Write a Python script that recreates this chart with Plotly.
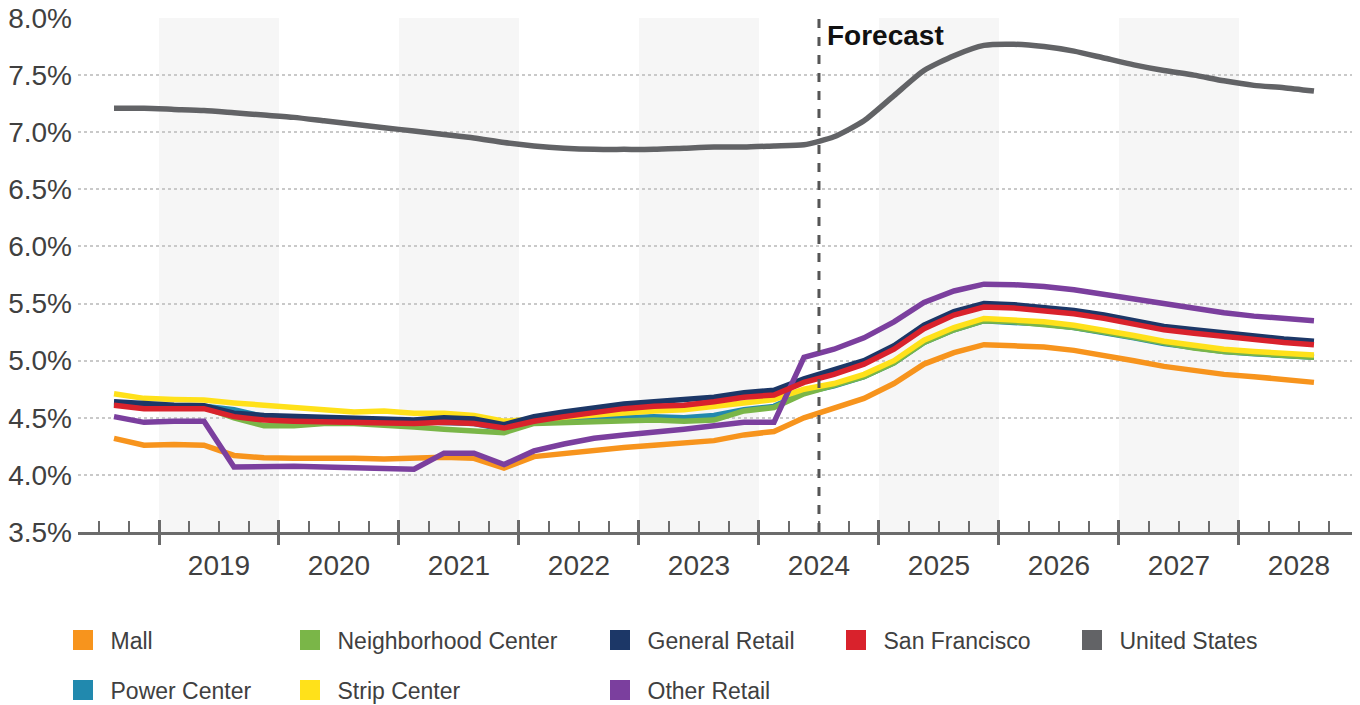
import plotly.graph_objects as go

# Quarterly periods, 2018 Q3 through 2028 Q3
quarters = []
for yr in range(2018, 2029):
    for q in range(1, 5):
        if (2018, 3) <= (yr, q) <= (2028, 3):
            quarters.append((yr, q))

# Cap rates (%) by sector
mall = [4.32, 4.26, 4.265, 4.26, 4.17, 4.15, 4.145, 4.15, 4.145, 4.14, 4.145,
        4.155, 4.145, 4.06, 4.16, 4.19, 4.22, 4.24, 4.26, 4.275, 4.30, 4.35,
        4.38, 4.50, 4.58, 4.67, 4.80, 4.97, 5.07, 5.14, 5.13, 5.12, 5.09,
        5.05, 5.00, 4.95, 4.91, 4.88, 4.86, 4.84, 4.81]
power_center = [4.63, 4.61, 4.60, 4.60, 4.57, 4.51, 4.50, 4.49, 4.48, 4.47, 4.47,
                4.46, 4.45, 4.40, 4.46, 4.48, 4.49, 4.50, 4.51, 4.50, 4.52, 4.57,
                4.60, 4.72, 4.78, 4.86, 4.98, 5.16, 5.27, 5.35, 5.34, 5.32, 5.29,
                5.25, 5.20, 5.15, 5.11, 5.08, 5.06, 5.05, 5.03]
neighborhood_center = [4.62, 4.60, 4.60, 4.59, 4.50, 4.43, 4.43, 4.45, 4.45, 4.44, 4.42,
                       4.40, 4.38, 4.37, 4.45, 4.46, 4.46, 4.47, 4.48, 4.47, 4.48, 4.56,
                       4.59, 4.71, 4.78, 4.86, 4.98, 5.16, 5.27, 5.35, 5.34, 5.32, 5.29,
                       5.25, 5.20, 5.15, 5.11, 5.08, 5.06, 5.05, 5.03]
strip_center = [4.71, 4.67, 4.66, 4.655, 4.63, 4.61, 4.59, 4.57, 4.55, 4.56, 4.54,
                4.54, 4.52, 4.47, 4.49, 4.51, 4.53, 4.55, 4.56, 4.57, 4.60, 4.64,
                4.66, 4.75, 4.80, 4.88, 5.00, 5.18, 5.29, 5.37, 5.36, 5.34, 5.31,
                5.27, 5.22, 5.17, 5.13, 5.10, 5.08, 5.07, 5.05]
general_retail = [4.64, 4.62, 4.61, 4.605, 4.54, 4.52, 4.51, 4.50, 4.49, 4.49, 4.48,
                  4.50, 4.49, 4.44, 4.51, 4.55, 4.59, 4.62, 4.64, 4.66, 4.68, 4.72,
                  4.74, 4.84, 4.92, 5.00, 5.13, 5.31, 5.43, 5.50, 5.49, 5.47, 5.44,
                  5.40, 5.35, 5.30, 5.27, 5.24, 5.22, 5.19, 5.17]
other_retail = [4.51, 4.46, 4.47, 4.47, 4.07, 4.075, 4.075, 4.07, 4.06, 4.055, 4.05,
                4.19, 4.19, 4.09, 4.21, 4.27, 4.32, 4.35, 4.37, 4.40, 4.43, 4.46,
                4.46, 5.03, 5.10, 5.20, 5.34, 5.51, 5.61, 5.67, 5.665, 5.65, 5.62,
                5.58, 5.53, 5.49, 5.45, 5.42, 5.39, 5.37, 5.35]
san_francisco = [4.61, 4.58, 4.58, 4.58, 4.51, 4.48, 4.47, 4.465, 4.46, 4.455, 4.45,
                 4.46, 4.45, 4.41, 4.47, 4.51, 4.55, 4.58, 4.60, 4.61, 4.64, 4.68,
                 4.70, 4.81, 4.88, 4.97, 5.10, 5.28, 5.40, 5.47, 5.46, 5.44, 5.41,
                 5.37, 5.32, 5.27, 5.24, 5.21, 5.19, 5.16, 5.14]
united_states = [7.21, 7.21, 7.20, 7.19, 7.17, 7.15, 7.13, 7.10, 7.07, 7.04, 7.01,
                 6.98, 6.95, 6.91, 6.88, 6.86, 6.85, 6.85, 6.85, 6.86, 6.87, 6.87,
                 6.88, 6.89, 6.96, 7.10, 7.32, 7.54, 7.67, 7.76, 7.77, 7.75, 7.71,
                 7.65, 7.59, 7.54, 7.50, 7.45, 7.41, 7.39, 7.36]

series_names = ["Mall", "Power Center", "Neighborhood Center", "Strip Center",
                "General Retail", "Other Retail", "San Francisco", "United States"]
series_values = [mall, power_center, neighborhood_center, strip_center,
                 general_retail, other_retail, san_francisco, united_states]
series_colors = ["#F7941D", "#2189AE", "#7AB648", "#FFE11A",
                 "#1C3767", "#7B3F9E", "#D9222C", "#626366"]
series_shapes = ["linear"] * 7 + ["spline"]
# (column, row) of each legend entry
legend_slots = [(0, 0), (0, 1), (1, 0), (1, 1), (2, 0), (2, 1), (3, 0), (4, 0)]

year_labels = [str(y) for y in range(2019, 2029)]
shaded_years = [2019, 2021, 2023, 2025, 2027]
forecast_start = 2024.5
y_ticks = [3.5, 4.0, 4.5, 5.0, 5.5, 6.0, 6.5, 7.0, 7.5, 8.0]

# Each quarter is plotted at its midpoint on a fractional-year axis
x_vals = [yr + (q - 1) / 4 + 0.125 for yr, q in quarters]

W, H = 1360, 705
X_RANGE = [2018.325, 2028.942]
AXIS_GREY = "#6b6b6b"
TEXT_GREY = "#404040"
FONT = "Liberation Sans, Arial, sans-serif"

fig = go.Figure()

for name, vals, col, shp in zip(series_names, series_values, series_colors,
                                series_shapes):
    fig.add_trace(go.Scatter(
        x=x_vals, y=vals, mode="lines", name=name,
        line=dict(color=col, width=5.5, shape=shp, smoothing=0.6),
        showlegend=False, legendgroup=name, hoverinfo="x+y+name"))

# Legend swatches, one small legend per entry
legend_cols = [73, 300, 610, 846, 1082]
legend_rows = [640, 690]
for i, (name, col) in enumerate(zip(series_names, series_colors)):
    lid = "legend" if i == 0 else f"legend{i + 1}"
    fig.add_trace(go.Scatter(
        x=[None], y=[None], mode="markers", name=name, legendgroup=name,
        legend=lid,
        marker=dict(symbol="square", size=16, color=col,
                    line=dict(color=col, width=4))))
    c, r = legend_slots[i]
    cx, cy = legend_cols[c], legend_rows[r]
    fig.update_layout(**{lid: dict(
        xref="container", yref="container",
        x=(cx - 17.5) / W, y=1 - cy / H, xanchor="left", yanchor="middle",
        bgcolor="rgba(0,0,0,0)", borderwidth=0, itemwidth=45,
        font=dict(family=FONT, size=23, color=TEXT_GREY),
        itemclick=False, itemdoubleclick=False)})

# Placeholder traces so the overlay tick axes are drawn
for ax in ["x2", "x3"]:
    fig.add_trace(go.Scatter(x=[X_RANGE[0]], y=[None], xaxis=ax, yaxis="y",
                             mode="lines", showlegend=False, hoverinfo="skip"))

# Alternating year shading
for yr in shaded_years:
    fig.add_shape(type="rect", xref="x", yref="paper", x0=yr, x1=yr + 1,
                  y0=0, y1=1, fillcolor="#f6f6f6", line=dict(width=0),
                  layer="below")

# Forecast divider
fig.add_shape(type="line", xref="x", yref="paper", x0=forecast_start,
              x1=forecast_start, y0=0, y1=1,
              line=dict(color="#555555", width=3, dash="dash"), layer="above")
fig.add_annotation(x=forecast_start, xref="x", y=1, yref="paper",
                   xanchor="left", yanchor="top", xshift=6, yshift=0,
                   text="<b>Forecast</b>", showarrow=False,
                   font=dict(family=FONT, size=28, color="#111111"))

year_bounds = list(range(2019, 2029))
fig.update_layout(
    width=W, height=H,
    margin=dict(l=78, r=8, t=18, b=173, autoexpand=False),
    paper_bgcolor="white", plot_bgcolor="white",
    font=dict(family=FONT, color=TEXT_GREY),
    showlegend=True,
    xaxis=dict(range=X_RANGE, tickmode="array",
               tickvals=[int(t) + 0.5 for t in year_labels], ticktext=year_labels,
               ticks="", showgrid=False, zeroline=False,
               showline=True, linecolor=AXIS_GREY, linewidth=3,
               tickfont=dict(family=FONT, size=28, color=TEXT_GREY),
               ticklabelstandoff=6),
    xaxis2=dict(range=X_RANGE, overlaying="x", anchor="y", tickmode="array",
                tickvals=year_bounds, ticks="inside", ticklen=12, tickwidth=3,
                tickcolor=AXIS_GREY, showticklabels=False, showgrid=False,
                zeroline=False, showline=False,
                minor=dict(dtick=0.25, tick0=2018, ticks="inside", ticklen=11,
                           tickwidth=1.5, tickcolor=AXIS_GREY, showgrid=False)),
    xaxis3=dict(range=X_RANGE, overlaying="x", anchor="y", tickmode="array",
                tickvals=year_bounds, ticks="outside", ticklen=12, tickwidth=3,
                tickcolor=AXIS_GREY, showticklabels=False, showgrid=False,
                zeroline=False, showline=False),
    yaxis=dict(range=[3.5, 8.0], tickmode="array", tickvals=y_ticks,
               ticktext=[f"{v:.1f}%" for v in y_ticks], ticks="",
               showgrid=True, gridcolor="#c9c9c9", gridwidth=1.5, griddash="dot",
               zeroline=False, showline=False,
               tickfont=dict(family=FONT, size=28, color=TEXT_GREY),
               ticklabelstandoff=5),
)

fig.write_html("out.html")
